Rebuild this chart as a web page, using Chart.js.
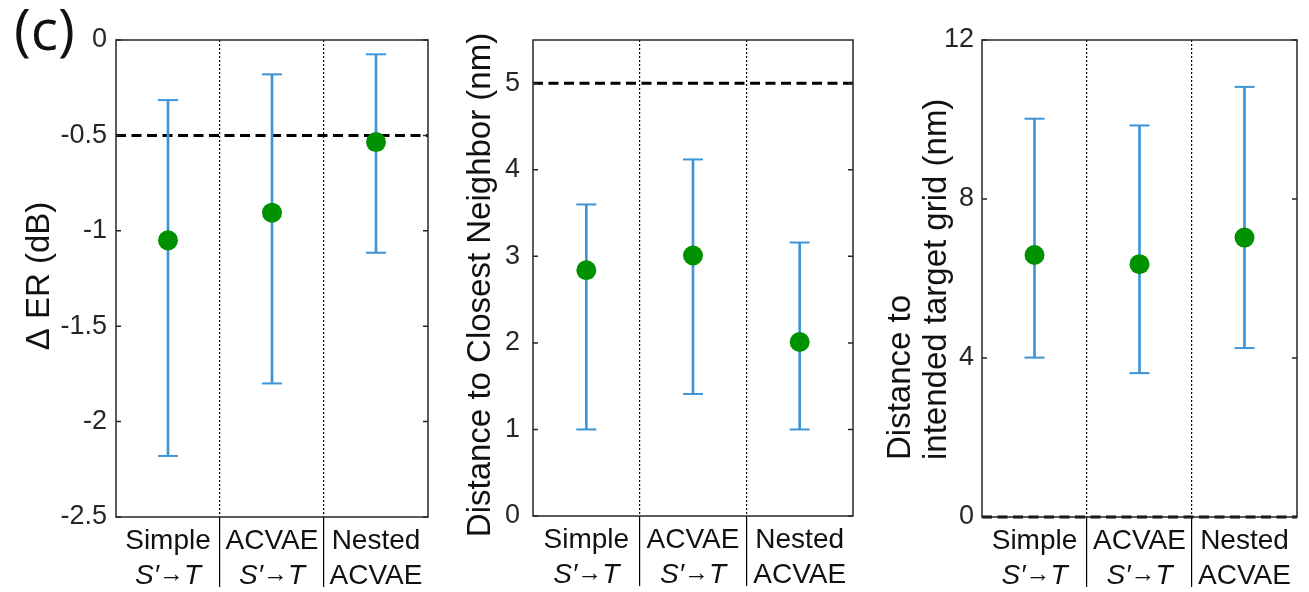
<!DOCTYPE html>
<html>
<head>
<meta charset="utf-8">
<script src="https://cdn.jsdelivr.net/npm/chart.js@4.4.1/dist/chart.umd.min.js"></script>
<style>
body{margin:0;background:#fff;width:1309px;height:592px;position:relative;overflow:hidden;font-family:"Liberation Sans",Arial,sans-serif}
canvas{position:absolute;top:0}
#tag{position:absolute;left:14px;top:-5px;font-family:"Open Sans",sans-serif;font-size:57px;line-height:66px;color:#111}
</style>
</head>
<body>
<div id="tag">(c)</div>
<canvas id="er" width="440" height="592" style="left:0"></canvas>
<canvas id="nb" width="430" height="592" style="left:440px"></canvas>
<canvas id="tg" width="439" height="592" style="left:870px"></canvas>
<script>
const methods = [['Simple', 'S′→T'], ['ACVAE', 'S′→T'], ['Nested', 'ACVAE']];

// delta ER (dB)
const erMean = [-1.05, -0.905, -0.535];
const erLow = [-2.18, -1.80, -1.115];
const erHigh = [-0.315, -0.18, -0.075];
const erTicks = [-2.5, -2, -1.5, -1, -0.5, 0];
const erRef = -0.5;

// distance to closest neighbor (nm)
const nbMean = [2.84, 3.01, 2.01];
const nbLow = [1.0, 1.41, 1.0];
const nbHigh = [3.60, 4.12, 3.16];
const nbTicks = [0, 1, 2, 3, 4, 5];
const nbRef = 5;

// distance to intended target grid (nm)
const tgMean = [6.59, 6.36, 7.03];
const tgLow = [4.01, 3.62, 4.25];
const tgHigh = [10.02, 9.85, 10.82];
const tgTicks = [0, 4, 8, 12];
const tgRef = 0;

const FONT = '"Liberation Sans", Arial, sans-serif';
const blue = '#3d94d6';
const green = '#009100';
const ink = '#262626';

// label with italic S′ and T, upright arrow a touch smaller and raised
function drawLabel(ctx, text, cx, y) {
  const parts = text.includes('→') ? text.split(/(→)/) : [text];
  const fonts = parts.map(p => {
    if (p === '→') return '25px ' + FONT;
    return (parts.length > 1 ? 'italic ' : '') + '28px ' + FONT;
  });
  let w = 0;
  parts.forEach((p, i) => { ctx.font = fonts[i]; w += ctx.measureText(p).width; });
  let x = cx - w / 2;
  parts.forEach((p, i) => {
    ctx.font = fonts[i];
    ctx.fillText(p, x, p === '→' ? y - 2 : y);
    x += ctx.measureText(p).width;
  });
}

const decor = {
  id: 'decor',
  beforeDatasetsDraw(chart, args, opts) {
    const {ctx, chartArea: a, scales: {y}} = chart;
    const py = y.getPixelForValue(opts.ref);
    ctx.save();
    ctx.strokeStyle = '#000';
    ctx.lineWidth = 3;
    ctx.setLineDash([10, 5.5]);
    ctx.beginPath();
    ctx.moveTo(a.left, py);
    ctx.lineTo(a.right, py);
    ctx.stroke();
    ctx.restore();
  },
  afterDraw(chart, args, opts) {
    const {ctx, chartArea: a, scales: {x, y}} = chart;
    ctx.save();
    ctx.strokeStyle = ink;
    ctx.lineWidth = 1.5;
    ctx.setLineDash([]);
    ctx.strokeRect(a.left, a.top, a.width, a.height);
    ctx.beginPath();
    y.ticks.forEach(t => {
      const py = y.getPixelForValue(t.value);
      ctx.moveTo(a.left, py); ctx.lineTo(a.left + 5, py);
      ctx.moveTo(a.right, py); ctx.lineTo(a.right - 5, py);
    });
    ctx.stroke();

    // category labels
    ctx.fillStyle = '#111';
    ctx.textAlign = 'left';
    ctx.textBaseline = 'alphabetic';
    chart.data.labels.forEach((lab, i) => {
      const cx = x.getPixelForValue(i);
      drawLabel(ctx, lab[0], cx, a.bottom + 32);
      drawLabel(ctx, lab[1], cx, a.bottom + 67);
    });

    // y title
    ctx.font = '33px ' + FONT;
    ctx.textBaseline = 'middle';
    ctx.textAlign = opts.titleAlign;
    ctx.translate(opts.titleX, opts.titleY);
    ctx.rotate(-Math.PI / 2);
    opts.title.forEach((line, i) => ctx.fillText(line, 0, i * 36));
    ctx.restore();
  }
};

function makePanel(id, mean, low, high, ticks, o) {
  return new Chart(document.getElementById(id), {
    type: 'bar',
    data: {
      labels: methods,
      datasets: [
        {type: 'line', data: mean, showLine: false, pointStyle: 'circle', pointRadius: 10,
         pointBackgroundColor: green, pointBorderWidth: 0, borderColor: green},
        {type: 'line', data: high, showLine: false, pointStyle: 'line', pointRadius: 10,
         pointBorderColor: blue, pointBorderWidth: 2, borderColor: blue},
        {type: 'line', data: low, showLine: false, pointStyle: 'line', pointRadius: 10,
         pointBorderColor: blue, pointBorderWidth: 2, borderColor: blue},
        {type: 'bar', data: low.map((v, i) => [v, high[i]]), backgroundColor: blue,
         barThickness: 2, borderWidth: 0}
      ]
    },
    options: {
      responsive: false,
      animation: false,
      layout: {padding: {top: 40, right: o.right, left: 0, bottom: 0}},
      plugins: {
        legend: {display: false},
        tooltip: {enabled: false},
        decor: {ref: o.ref, title: o.title, titleX: o.titleX, titleY: o.titleY, titleAlign: o.titleAlign}
      },
      scales: {
        x: {
          offset: true,
          grid: {
            offset: true,
            color: c => (c.index > 0 && c.index < methods.length) ? '#000' : 'rgba(0,0,0,0)',
            lineWidth: 1.2,
            drawTicks: true,
            tickLength: 70
          },
          border: {display: false, dash: [2, 2]},
          ticks: {display: false},
          afterFit: s => { s.height = o.xh; }
        },
        y: {
          min: ticks[0],
          max: o.max,
          afterBuildTicks: s => { s.ticks = ticks.map(v => ({value: v})); },
          grid: {display: false, drawTicks: false},
          border: {display: false},
          ticks: {padding: o.pad, color: ink, font: {size: 27, family: FONT}, callback: v => String(v)},
          afterFit: s => { s.width = o.yw; }
        }
      }
    },
    plugins: [decor]
  });
}

makePanel('er', erMean, erLow, erHigh, erTicks, {
  max: 0, ref: erRef, right: 10, yw: 116, xh: 75, pad: 9,
  title: ['Δ ER (dB)'], titleX: 40, titleY: 276, titleAlign: 'center'
});
makePanel('nb', nbMean, nbLow, nbHigh, nbTicks, {
  max: 5.5, ref: nbRef, right: 17, yw: 93, xh: 76, pad: 13,
  title: ['Distance to Closest Neighbor (nm)'], titleX: 41, titleY: 285, titleAlign: 'center'
});
makePanel('tg', tgMean, tgLow, tgHigh, tgTicks, {
  max: 12, ref: tgRef, right: 10, yw: 112, xh: 75, pad: 8,
  title: ['Distance to', 'intended target grid (nm)'], titleX: 31, titleY: 460, titleAlign: 'left'
});
</script>
</body>
</html>
